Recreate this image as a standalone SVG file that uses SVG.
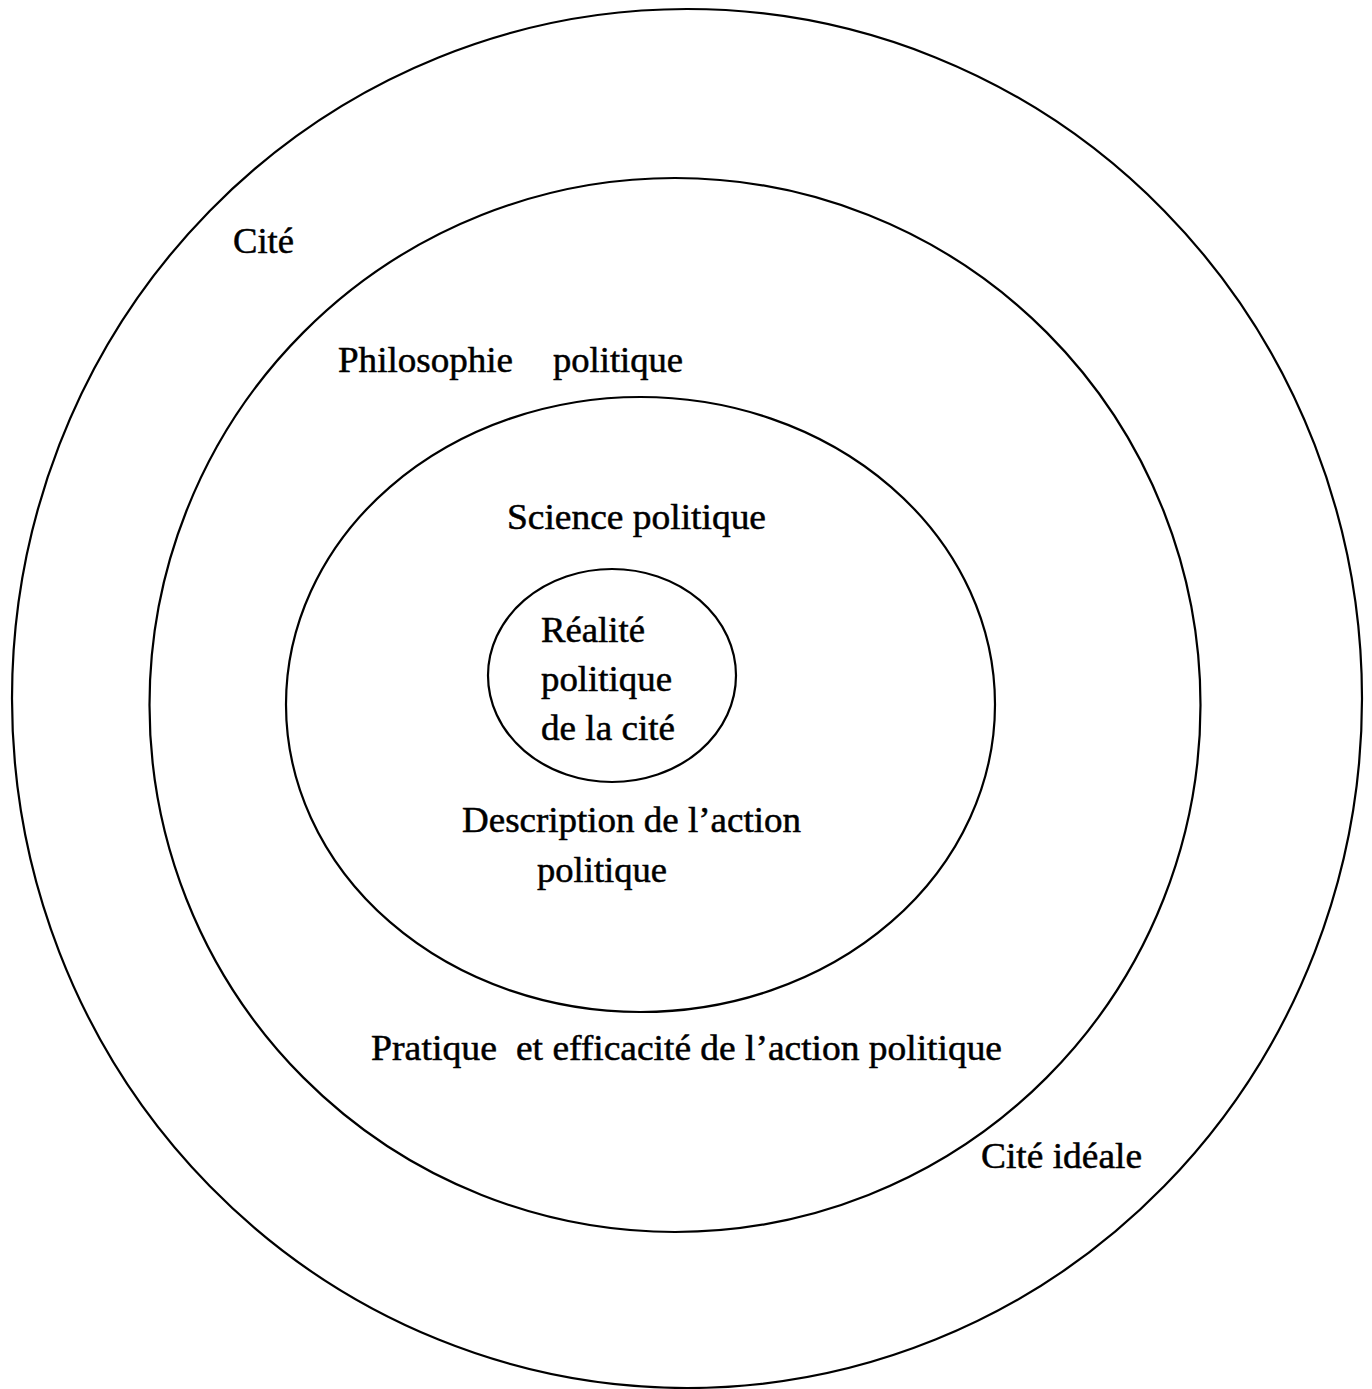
<svg xmlns="http://www.w3.org/2000/svg" width="1372" height="1389" viewBox="0 0 1372 1389">
<style>
.ring{fill:none;stroke:#000;stroke-width:2.2}
.lbl{font-family:"Liberation Serif","Times New Roman",serif;font-size:35px;fill:#000;stroke:#000;stroke-width:0.5}
</style>
<rect width="1372" height="1389" fill="#fff"/>
<g id="cite">
<ellipse class="ring" cx="687" cy="698.5" rx="675" ry="689.5"/>
<text class="lbl" x="233" y="253" textLength="61" lengthAdjust="spacingAndGlyphs">Cité</text>
<text class="lbl" x="981" y="1168" textLength="161" lengthAdjust="spacingAndGlyphs">Cité idéale</text>
</g>
<g id="philosophie">
<ellipse class="ring" cx="675" cy="705" rx="525.5" ry="527"/>
<text class="lbl" x="338" y="372"><tspan textLength="175" lengthAdjust="spacingAndGlyphs">Philosophie</tspan> <tspan x="553" textLength="130" lengthAdjust="spacingAndGlyphs">politique</tspan></text>
<text class="lbl" x="371" y="1060"><tspan textLength="126" lengthAdjust="spacingAndGlyphs">Pratique</tspan> <tspan x="516" textLength="486" lengthAdjust="spacingAndGlyphs">et efficacité de l’action politique</tspan></text>
</g>
<g id="science">
<ellipse class="ring" cx="640.5" cy="704.5" rx="354.5" ry="307.5"/>
<text class="lbl" x="507" y="529" textLength="259" lengthAdjust="spacingAndGlyphs">Science politique</text>
<text class="lbl" x="462" y="832" textLength="339" lengthAdjust="spacingAndGlyphs">Description de l’action</text>
<text class="lbl" x="537" y="882" textLength="130" lengthAdjust="spacingAndGlyphs">politique</text>
</g>
<g id="realite">
<ellipse class="ring" cx="612" cy="675.5" rx="124" ry="106.5"/>
<text class="lbl" x="541" y="642" textLength="104" lengthAdjust="spacingAndGlyphs">Réalité</text>
<text class="lbl" x="541" y="691" textLength="131" lengthAdjust="spacingAndGlyphs">politique</text>
<text class="lbl" x="541" y="740" textLength="134" lengthAdjust="spacingAndGlyphs">de la cité</text>
</g>
<g id="connectors"></g>
</svg>
